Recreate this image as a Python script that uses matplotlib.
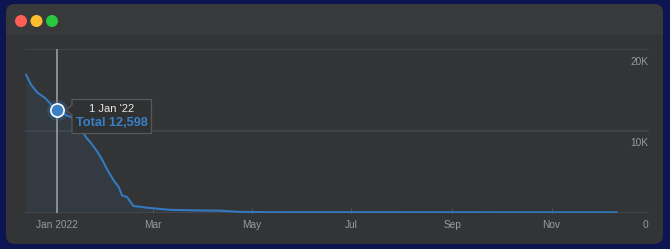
import datetime as dt

import matplotlib
matplotlib.use('Agg')
from matplotlib import pyplot as plt
from matplotlib.patches import Circle, FancyBboxPatch, Polygon

# values
dates = ['2021-12-13', '2021-12-16', '2021-12-20', '2021-12-25', '2021-12-29',
         '2022-01-01', '2022-01-07', '2022-01-10', '2022-01-14', '2022-01-19',
         '2022-01-22', '2022-01-26', '2022-01-29', '2022-02-01', '2022-02-05',
         '2022-02-08', '2022-02-10', '2022-02-13', '2022-02-17', '2022-02-25',
         '2022-03-11', '2022-03-30', '2022-04-11', '2022-04-23', '2022-05-06',
         '2022-06-01', '2022-07-01', '2022-08-01', '2022-09-01', '2022-10-01',
         '2022-11-01', '2022-12-11']
totals = [16900, 15700, 14700, 14000, 13100,
          12598, 11900, 11700, 10700, 9200,
          8500, 7400, 6400, 5200, 3900,
          3100, 2100, 1900, 800, 600,
          330, 250, 220, 80, 40,
          30, 30, 25, 25, 20,
          20, 20]
x_ticks = ['2022-01-01', '2022-03-01', '2022-05-01', '2022-07-01', '2022-09-01', '2022-11-01']
x_labels = ['Jan 2022', 'Mar', 'May', 'Jul', 'Sep', 'Nov']
y_ticks = [0, 10000, 20000]
y_labels = ['0', '10K', '20K']
hover_date = '2022-01-01'
hover_value = 12598

W, H = 670, 249
BLUE = '#3479c0'
LABEL = '#999a9c'
plt.rcParams['font.family'] = ['Liberation Sans', 'DejaVu Sans']


def px(x0, y0, x1, y1):
    # pixel box (top-left origin) -> figure fraction rect
    return [x0 / W, 1 - y1 / H, (x1 - x0) / W, (y1 - y0) / H]


def main():
    fig = plt.figure(figsize=(W / 100, H / 100), dpi=100)
    fig.patch.set_facecolor('#0d1452')

    # окно
    bg = fig.add_axes([0, 0, 1, 1], zorder=0)
    bg.set_xlim(0, W)
    bg.set_ylim(H, 0)
    bg.axis('off')
    bg.add_patch(FancyBboxPatch((6, 4), 657, 240, boxstyle='round,pad=0,rounding_size=9',
                                fc='#333435', ec='none'))
    bg.add_patch(FancyBboxPatch((6, 4), 657, 31, boxstyle='round,pad=0,rounding_size=9',
                                fc='#38393a', ec='none'))
    bg.add_patch(plt.Rectangle((6, 20), 657, 15, fc='#38393a', ec='none'))
    for cx, c in zip([21, 36.5, 52], ['#ff5f57', '#febc2e', '#28c840']):
        bg.add_patch(Circle((cx, 21), 6, fc=c, ec='none'))

    # график
    ax = fig.add_axes(px(25, 49.5, 649, 212.5), zorder=1)
    ax.patch.set_alpha(0)
    d = [dt.datetime.fromisoformat(s) for s in dates]
    ax.plot(d, totals, color=BLUE, lw=1.5, zorder=3, solid_joinstyle='round')
    ax.fill_between(d, totals, 0, color=BLUE, alpha=0.09, lw=0, zorder=2)

    jan1 = dt.datetime(2022, 1, 1)
    ax.set_xlim(jan1 - dt.timedelta(days=19.67), jan1 + dt.timedelta(days=363.9))
    ax.set_ylim(0, 20000)
    for s in ax.spines.values():
        s.set_visible(False)
    ax.set_yticks([])
    for v in y_ticks:
        ax.axhline(v, color='#464749', lw=1.1, zorder=1)
    for v, lab in zip(y_ticks, y_labels):
        ax.annotate(lab, xy=(0.9995, v), xycoords=('axes fraction', 'data'),
                    xytext=(0, -9), textcoords='offset points',
                    ha='right', va='center', fontsize=7.3, color=LABEL)

    ax.set_xticks([dt.datetime.fromisoformat(s) for s in x_ticks])
    ax.set_xticklabels(x_labels)
    ax.tick_params(axis='x', direction='in', length=3.6, width=0.8, color='#505153',
                   pad=5.5, labelsize=7.3, labelcolor=LABEL)

    # курсор и точка
    hd = dt.datetime.fromisoformat(hover_date)
    ax.axvline(hd, color='#8d8e90', lw=1.4, zorder=4)
    ax.plot([hd], [hover_value], 'o', ms=15, color=BLUE, alpha=0.3, mew=0, zorder=5)
    ax.plot([hd], [hover_value], 'o', ms=9.5, mfc='#3b80c6', mec='white', mew=1.2, zorder=6)

    # подсказка
    top = fig.add_axes([0, 0, 1, 1], zorder=2)
    top.set_xlim(0, W)
    top.set_ylim(H, 0)
    top.axis('off')
    top.patch.set_alpha(0)
    top.add_patch(Polygon([(72, 99.5), (151.5, 99.5), (151.5, 133.5), (72, 133.5),
                           (72, 115), (66, 110), (72, 105)],
                          closed=True, fc='#303132', ec='#575859', lw=0.9))
    top.text(111.5, 108.5, "1 Jan '22", ha='center', va='center', fontsize=8, color='#e8e8e8')
    top.text(111.5, 122.5, 'Total {:,}'.format(hover_value), ha='center', va='center',
             fontsize=9.2, fontweight='bold', color='#3a80c8')

    fig.savefig('out.png', dpi=100, facecolor=fig.get_facecolor())


if __name__ == '__main__':
    main()
